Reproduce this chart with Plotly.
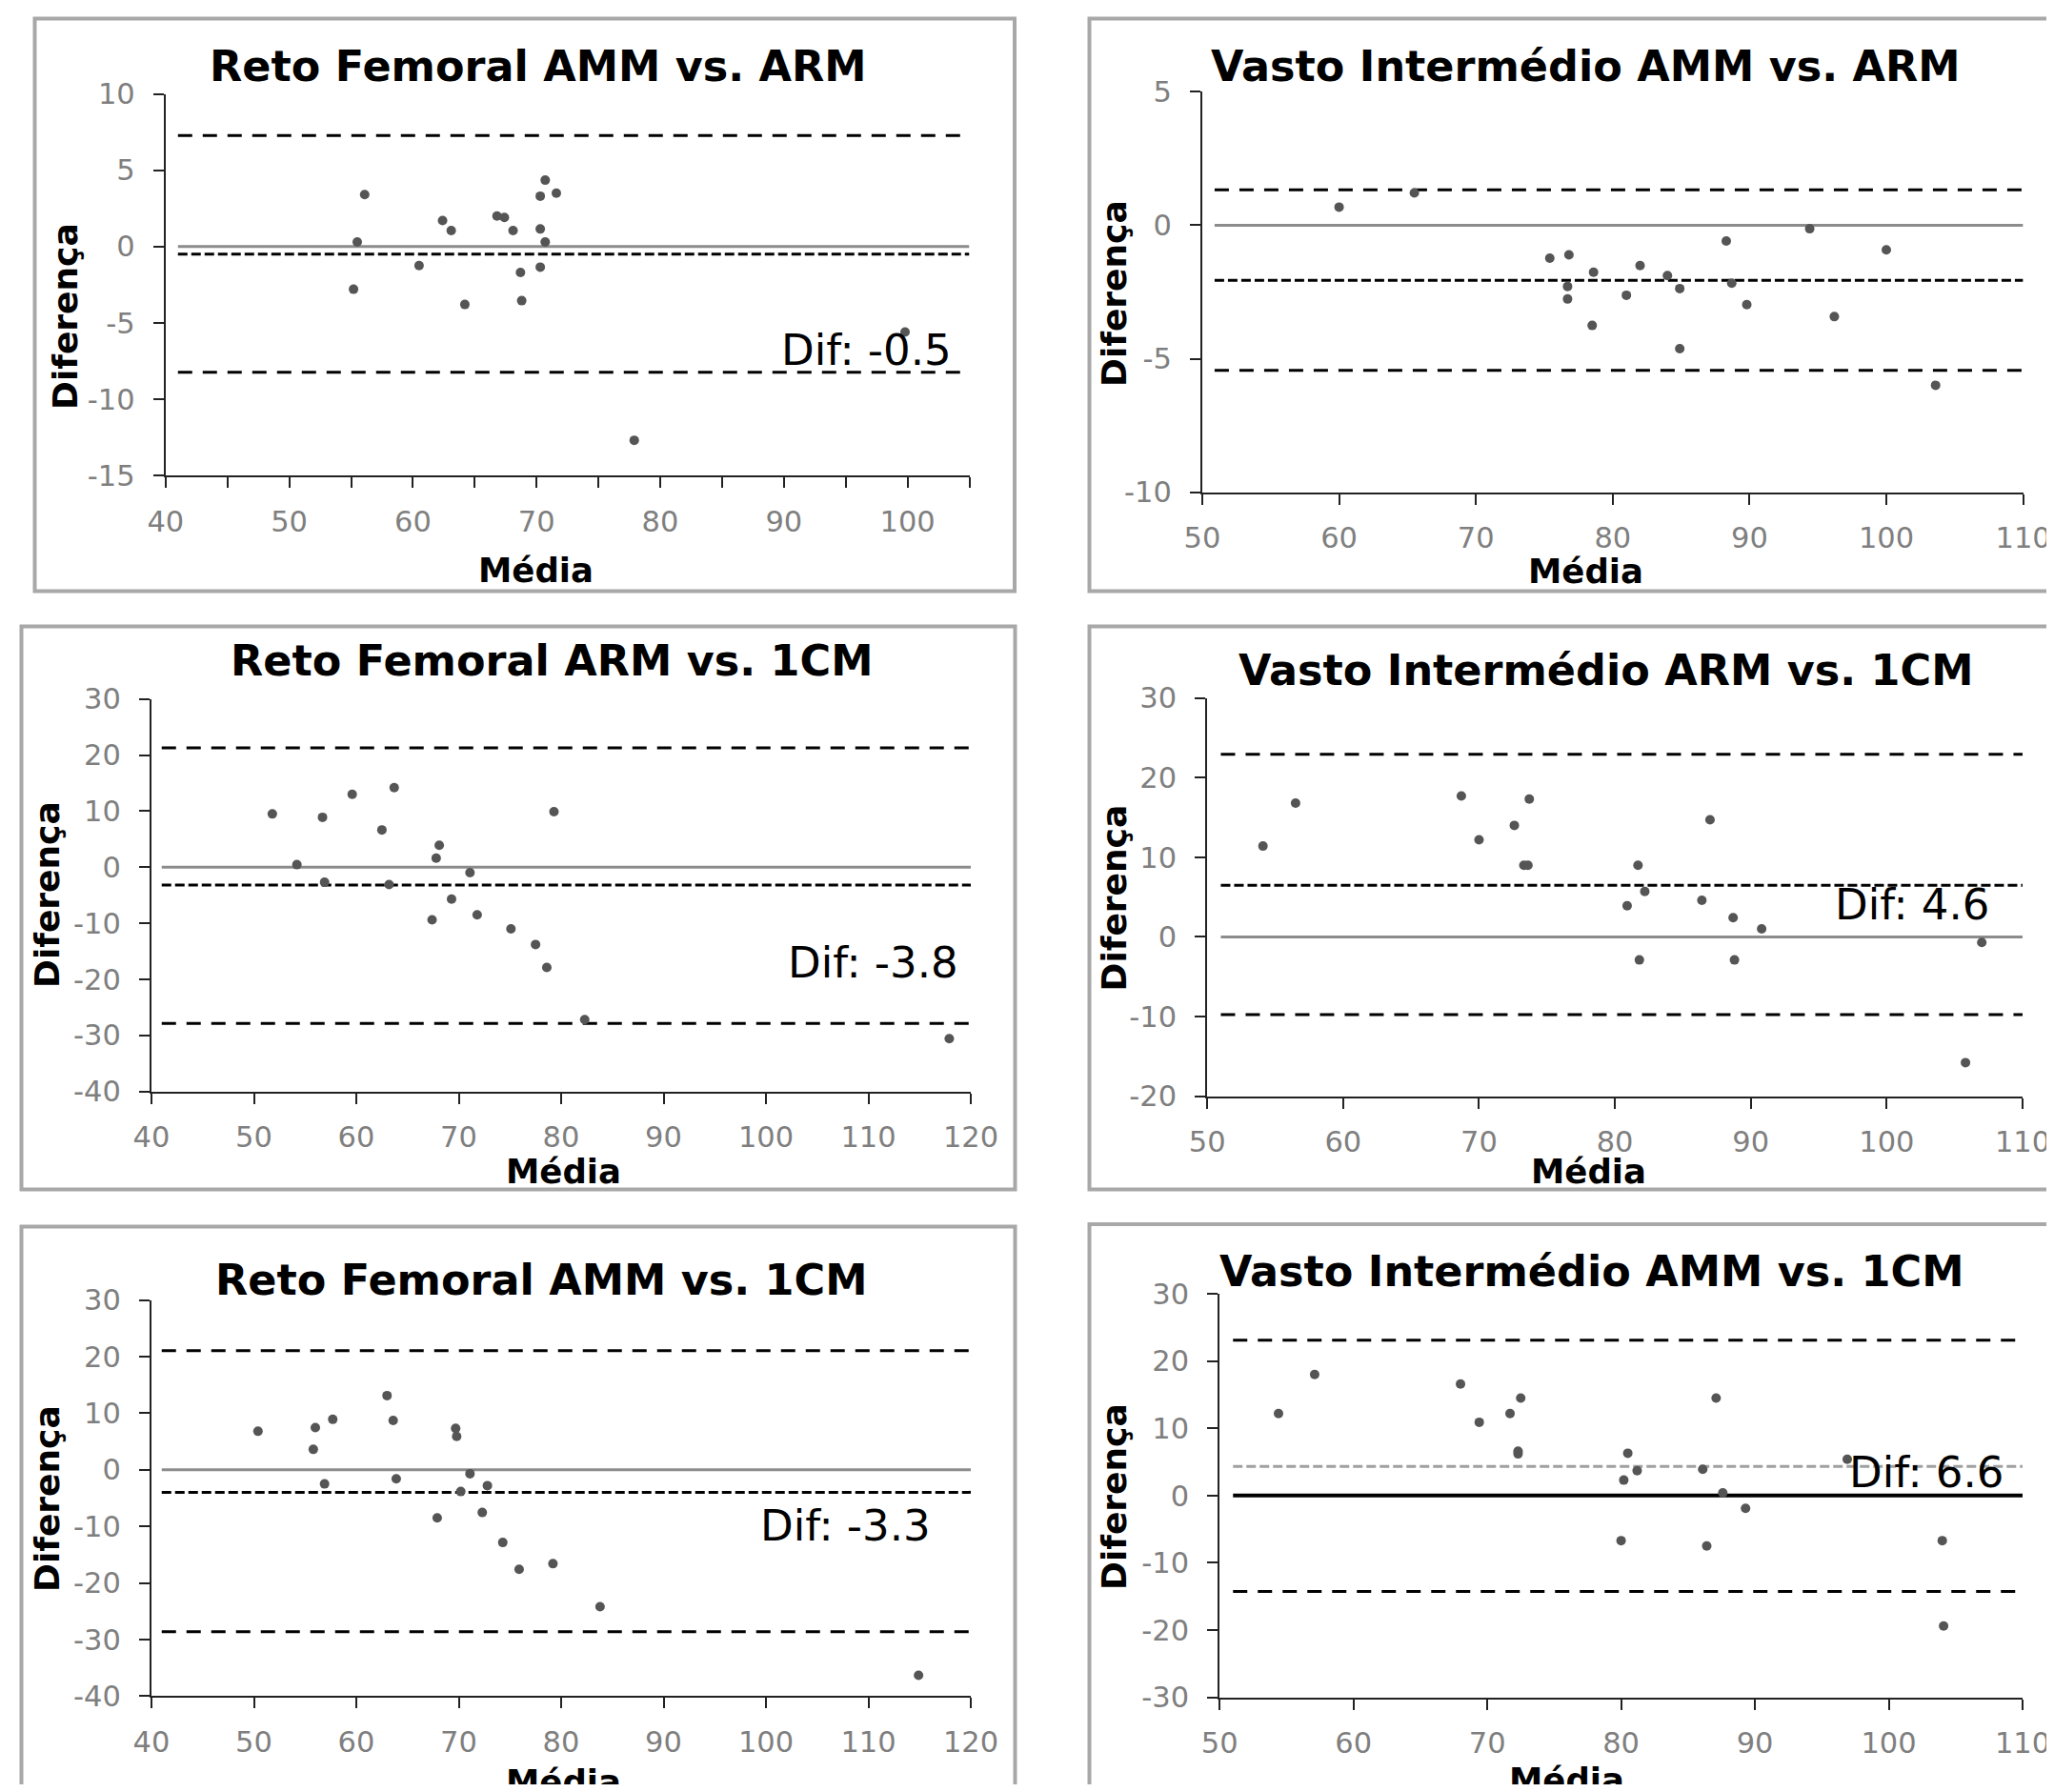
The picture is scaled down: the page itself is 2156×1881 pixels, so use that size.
import plotly.graph_objects as go

W, H = 2156, 1881
BODY = 8  # default page margin around the plot div

# ---------------- data ----------------
titles = ["Reto Femoral AMM vs. ARM", "Vasto Intermédio AMM vs. ARM",
          "Reto Femoral ARM vs. 1CM", "Vasto Intermédio ARM vs. 1CM",
          "Reto Femoral AMM vs. 1CM", "Vasto Intermédio AMM vs. 1CM"]
dif_labels = ["Dif: -0.5", "Dif: -2", "Dif: -3.8", "Dif: 4.6", "Dif: -3.3", "Dif: 6.6"]
x_title = "Média"
y_title = "Diferença"

rf_amm_arm_media = [56.1, 55.5, 55.2, 60.5, 62.4, 63.1, 64.2, 66.8, 67.4, 68.1,
                    68.7, 68.8, 70.3, 70.3, 70.3, 70.7, 70.7, 71.6, 77.9, 99.8]
rf_amm_arm_dif = [3.4, 0.3, -2.8, -1.25, 1.7, 1.05, -3.8, 2.0, 1.9, 1.05,
                  -1.7, -3.55, 3.3, 1.15, -1.35, 4.35, 0.3, 3.5, -12.7, -5.6]

vi_amm_arm_media = [60.0, 65.5, 75.4, 76.8, 76.7, 76.7, 78.6, 78.5, 81.0, 82.0,
                    84.0, 84.9, 84.9, 88.3, 88.7, 89.8, 94.4, 96.2, 100.0, 103.6]
vi_amm_arm_dif = [0.68, 1.21, -1.23, -1.11, -2.29, -2.76, -1.76, -3.75, -2.62, -1.51,
                  -1.88, -2.37, -4.62, -0.59, -2.17, -2.97, -0.13, -3.42, -0.92, -5.99]

rf_arm_1cm_media = [51.8, 54.2, 56.7, 56.9, 59.6, 62.5, 63.2, 63.7, 67.4, 67.8,
                    68.1, 69.3, 71.1, 71.8, 75.1, 77.5, 78.6, 79.3, 82.3, 117.9]
rf_arm_1cm_dif = [9.5, 0.45, 8.9, -2.7, 13.0, 6.65, -3.1, 14.2, -9.4, 1.6,
                  3.9, -5.7, -0.97, -8.5, -11.0, -13.8, -17.9, 9.9, -27.2, -30.6]

vi_arm_1cm_media = [54.1, 56.5, 68.7, 70.0, 72.6, 73.7, 73.3, 73.6, 80.9, 81.7,
                    81.8, 82.2, 86.4, 87.0, 88.7, 88.8, 90.8, 105.8, 107.0]
vi_arm_1cm_dif = [11.4, 16.8, 17.7, 12.2, 14.0, 17.3, 9.0, 9.0, 3.9, 9.0,
                  -2.9, 5.7, 4.6, 14.7, 2.4, -2.9, 1.0, -15.8, -0.7]

rf_amm_1cm_media = [50.4, 56.0, 55.8, 57.7, 56.9, 63.0, 63.6, 63.9, 67.9, 69.7,
                    69.8, 71.1, 70.2, 72.8, 72.3, 74.3, 75.9, 79.2, 83.8, 114.9]
rf_amm_1cm_dif = [6.8, 7.45, 3.6, 8.9, -2.5, 13.1, 8.7, -1.6, -8.5, 7.3,
                  5.9, -0.7, -3.85, -2.8, -7.55, -12.85, -17.6, -16.6, -24.2, -36.3]

vi_amm_1cm_media = [54.4, 57.1, 68.0, 69.4, 71.7, 72.5, 72.3, 72.3, 80.0, 80.2,
                    80.5, 81.2, 86.1, 86.4, 87.1, 87.6, 89.3, 96.9, 104.0, 104.1]
vi_amm_1cm_dif = [12.2, 18.0, 16.6, 10.9, 12.2, 14.5, 6.6, 6.2, -6.7, 2.3,
                  6.3, 3.7, 3.9, -7.5, 14.5, 0.4, -1.9, 5.4, -6.7, -19.4]

media_series = [rf_amm_arm_media, vi_amm_arm_media, rf_arm_1cm_media,
                vi_arm_1cm_media, rf_amm_1cm_media, vi_amm_1cm_media]
dif_series = [rf_amm_arm_dif, vi_amm_arm_dif, rf_arm_1cm_dif,
              vi_arm_1cm_dif, rf_amm_1cm_dif, vi_amm_1cm_dif]

mean_diff = [-0.5, -2.06, -3.2, 6.48, -3.98, 4.35]
upper_loa = [7.27, 1.33, 21.29, 22.92, 21.05, 23.12]
lower_loa = [-8.24, -5.43, -27.87, -9.78, -28.63, -14.25]
line_x = [[41, 105], [50.9, 110], [41, 120], [51, 110], [41, 120], [51, 110]]

x_ranges = [[40, 105], [50, 110], [40, 120], [50, 110], [40, 120], [50, 110]]
y_ranges = [[-15, 10], [-10, 5], [-40, 30], [-20, 30], [-40, 30], [-30, 30]]

x_tickvals = [[40, 45, 50, 55, 60, 65, 70, 75, 80, 85, 90, 95, 100, 105],
              [50, 60, 70, 80, 90, 100, 110],
              [40, 50, 60, 70, 80, 90, 100, 110, 120],
              [50, 60, 70, 80, 90, 100, 110],
              [40, 50, 60, 70, 80, 90, 100, 110, 120],
              [50, 60, 70, 80, 90, 100, 110]]
x_ticktext = [["40", "", "50", "", "60", "", "70", "", "80", "", "90", "", "100", ""],
              ["50", "60", "70", "80", "90", "100", "110"],
              ["40", "50", "60", "70", "80", "90", "100", "110", "120"],
              ["50", "60", "70", "80", "90", "100", "110"],
              ["40", "50", "60", "70", "80", "90", "100", "110", "120"],
              ["50", "60", "70", "80", "90", "100", "110"]]
y_tickvals = [[-15, -10, -5, 0, 5, 10],
              [-10, -5, 0, 5],
              [-40, -30, -20, -10, 0, 10, 20, 30],
              [-20, -10, 0, 10, 20, 30],
              [-40, -30, -20, -10, 0, 10, 20, 30],
              [-30, -20, -10, 0, 10, 20, 30]]

# ---------------- layout (page pixels) ----------------
plot_px = [(173.8, 1017.5, 98.6, 499), (1262, 2123.6, 96.3, 516.8),
           (159, 1019, 733.8, 1145.5), (1267.2, 2123, 732.7, 1150.5),
           (159, 1019, 1364.5, 1780.4), (1280.2, 2123, 1358.1, 1781.6)]
title_px = [(565, 69), (1664.5, 69), (579, 693), (1686, 703.5), (568, 1343), (1671, 1334)]
xt_px = [(562, 598), (1664, 600), (591, 1229), (1667, 1229), (591, 1870), (1644, 1868)]
yt_px = [(68, 332), (1169, 308), (49, 939), (1169, 942.5), (49, 1573), (1169, 1571)]
box_px = [(36.5, 1065, 19.5, 620.5), (1143.5, 2170, 19.5, 620.5),
          (22.5, 1065.5, 657.5, 1248.5), (1143.5, 2170, 657.5, 1248.5),
          (22.5, 1065.5, 1287.5, 1900), (1143.5, 2170, 1285, 1900)]
dif_pos = [(103.7, -6.8), (110.3, -5.2), (119.0, -17.1), (107.7, 4.0), (116.3, -9.9), (108.7, 3.5)]

FONT = "DejaVu Sans"
FW, FH = W - 2 * BODY, H - 2 * BODY


def px_x(v):
    return (v - BODY) / FW


def px_y(v):
    return 1 - (v - BODY) / FH


fig = go.Figure()
annotations = []
shapes = []

for i in range(6):
    n = i + 1
    xa = "x" if n == 1 else f"x{n}"
    ya = "y" if n == 1 else f"y{n}"
    lx = line_x[i]
    last = (i == 5)
    zero_color = "#000000" if last else "#8c8c8c"
    zero_width = 4 if last else 3
    mean_color = "#a0a0a0" if last else "#000000"

    fig.add_trace(go.Scatter(x=lx, y=[0, 0], mode="lines", xaxis=xa, yaxis=ya,
                             line=dict(color=zero_color, width=zero_width),
                             showlegend=False, hoverinfo="skip"))
    for val in (upper_loa[i], lower_loa[i]):
        fig.add_trace(go.Scatter(x=lx, y=[val, val], mode="lines", xaxis=xa, yaxis=ya,
                                 line=dict(color="#000000", width=3, dash="15px,11px"),
                                 showlegend=False, hoverinfo="skip"))
    fig.add_trace(go.Scatter(x=lx, y=[mean_diff[i], mean_diff[i]], mode="lines",
                             xaxis=xa, yaxis=ya,
                             line=dict(color=mean_color, width=3, dash="10px,4px"),
                             showlegend=False, hoverinfo="skip"))
    fig.add_trace(go.Scatter(x=media_series[i], y=dif_series[i], mode="markers",
                             xaxis=xa, yaxis=ya,
                             marker=dict(color="#555555", size=10),
                             showlegend=False))

    l, r, t, b = plot_px[i]
    axis_common = dict(showline=True, linecolor="#222222", linewidth=2,
                       ticks="outside", ticklen=11, tickwidth=2, tickcolor="#222222",
                       showgrid=False, zeroline=False, automargin=False,
                       ticklabeloverflow="allow",
                       tickfont=dict(family=FONT, size=30.5, color="#7f7f7f"))
    fig.update_layout(**{
        ("xaxis" if n == 1 else f"xaxis{n}"): dict(
            axis_common, domain=[px_x(l), px_x(r)], range=x_ranges[i],
            anchor=ya, tickmode="array", tickvals=x_tickvals[i],
            ticktext=x_ticktext[i], ticklabelstandoff=9),
        ("yaxis" if n == 1 else f"yaxis{n}"): dict(
            axis_common, domain=[px_y(b), px_y(t)], range=y_ranges[i],
            anchor=xa, tickmode="array", tickvals=y_tickvals[i],
            ticktext=[str(v) for v in y_tickvals[i]], ticklabelstandoff=13),
    })

    tx, ty = title_px[i]
    annotations.append(dict(text=titles[i], x=px_x(tx), y=px_y(ty), xref="paper", yref="paper",
                            showarrow=False, xanchor="center", yanchor="middle",
                            font=dict(family=FONT, size=44.5, color="#000000", weight="bold")))
    mx, my = xt_px[i]
    annotations.append(dict(text=x_title, x=px_x(mx), y=px_y(my), xref="paper", yref="paper",
                            showarrow=False, xanchor="center", yanchor="middle",
                            font=dict(family=FONT, size=35.5, color="#000000", weight="bold")))
    dx, dy = yt_px[i]
    annotations.append(dict(text=y_title, x=px_x(dx), y=px_y(dy), xref="paper", yref="paper",
                            showarrow=False, xanchor="center", yanchor="middle", textangle=-90,
                            font=dict(family=FONT, size=36, color="#000000", weight="bold")))
    ax_, ay_ = dif_pos[i]
    annotations.append(dict(text=dif_labels[i], x=ax_, y=ay_, xref=xa, yref=ya,
                            showarrow=False, xanchor="right", yanchor="middle",
                            font=dict(family=FONT, size=45, color="#000000")))
    bl, br, bt, bb = box_px[i]
    shapes.append(dict(type="rect", xref="paper", yref="paper",
                       x0=px_x(bl), x1=px_x(br), y0=px_y(bb), y1=px_y(bt),
                       line=dict(color="#a8a8a8", width=4), fillcolor="rgba(0,0,0,0)",
                       layer="below"))

fig.update_layout(width=FW, height=FH,
                  margin=dict(l=0, r=0, t=0, b=0, pad=0, autoexpand=False),
                  paper_bgcolor="white", plot_bgcolor="white",
                  annotations=annotations, shapes=shapes, showlegend=False)

fig.write_html("out.html")
